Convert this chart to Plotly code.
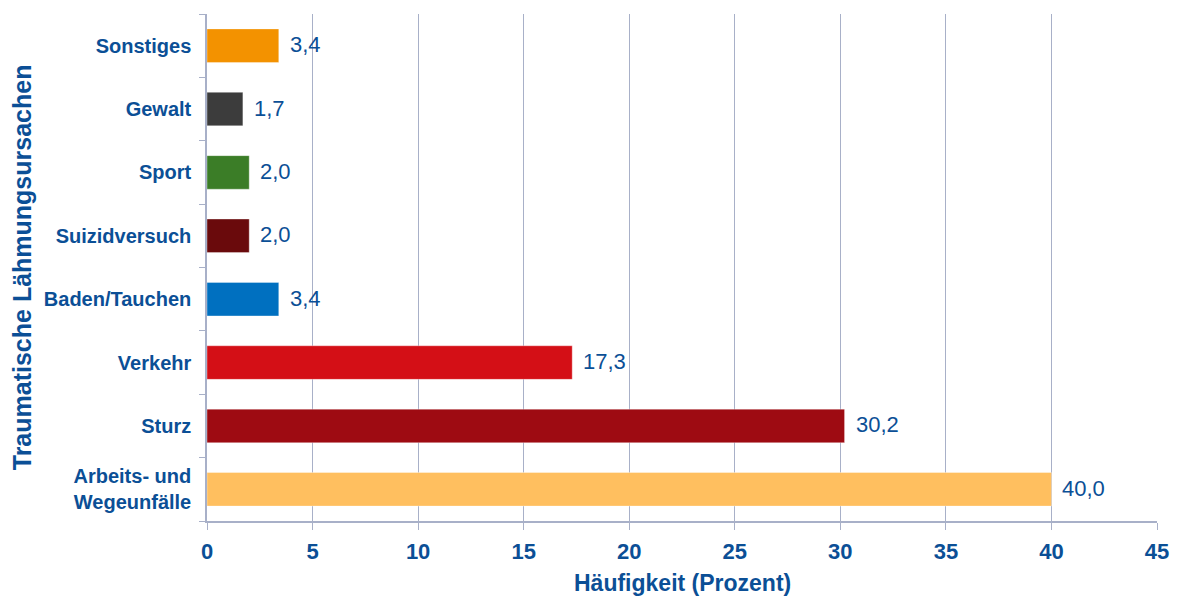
import plotly.graph_objects as go

# Ursachen traumatischer Lähmungen, von unten nach oben
categories = ["Arbeits- und<br>Wegeunfälle", "Sturz", "Verkehr", "Baden/Tauchen",
              "Suizidversuch", "Sport", "Gewalt", "Sonstiges"]
values = [40.0, 30.2, 17.3, 3.4, 2.0, 2.0, 1.7, 3.4]
bar_colors = ["#ffbf5f", "#9e0b12", "#d40f16", "#0070c0",
              "#6a0a0c", "#3b7d27", "#3c3c3c", "#f39200"]
x_ticks = [0, 5, 10, 15, 20, 25, 30, 35, 40, 45]

BLUE = "#0b4f96"
GRID = "#a8b0c8"
FONT = "Liberation Sans, Arial, sans-serif"

fig = go.Figure()
fig.add_trace(go.Bar(
    y=categories,
    x=values,
    orientation="h",
    marker=dict(color=bar_colors, line=dict(color="rgba(255,255,255,0.35)", width=1)),
    hoverinfo="x+y",
))

# Werte rechts neben den Balken, mit Dezimalkomma
for cat, val in zip(categories, values):
    fig.add_annotation(
        x=val, y=cat, xref="x", yref="y",
        text=f"{val:.1f}".replace(".", ","),
        showarrow=False, xanchor="left", xshift=9, yshift=1,
        font=dict(family=FONT, size=22, color=BLUE),
    )

# Achsentitel
fig.add_annotation(
    text="<b>Häufigkeit (Prozent)</b>", xref="paper", yref="paper",
    x=0.5, y=-0.123, xanchor="center", yanchor="middle", showarrow=False,
    font=dict(family=FONT, size=23, color=BLUE),
)
fig.add_annotation(
    text="<b>Traumatische Lähmungsursachen</b>", xref="paper", yref="paper",
    x=-0.195, y=0.5, xanchor="center", yanchor="middle", showarrow=False,
    textangle=-90,
    font=dict(family=FONT, size=25, color=BLUE),
)

fig.update_layout(
    width=1180, height=597,
    margin=dict(l=207, r=23, t=14, b=76),
    paper_bgcolor="white",
    plot_bgcolor="white",
    bargap=0.47,
    showlegend=False,
    font=dict(family=FONT, color=BLUE),
)

fig.update_xaxes(
    range=[0, 45],
    tickvals=x_ticks,
    ticktext=[str(t) for t in x_ticks],
    automargin=False,
    showgrid=True, gridcolor=GRID, gridwidth=1,
    showline=True, linecolor=GRID, linewidth=1.5,
    ticks="outside", ticklen=7, tickcolor=GRID, tickwidth=1,
    tickfont=dict(family=FONT, size=22, color=BLUE, weight="bold"),
    ticklabelstandoff=3,
    zeroline=False,
)

fig.update_yaxes(
    type="category",
    categoryorder="array", categoryarray=categories,
    automargin=False,
    showgrid=False,
    showline=True, linecolor=GRID, linewidth=1.5,
    ticks="outside", ticklen=6, tickcolor=GRID, tickwidth=1,
    tickson="boundaries",
    tickfont=dict(family=FONT, size=20, color=BLUE, weight="bold"),
    ticklabelstandoff=10,
)

fig.write_html("out.html")
